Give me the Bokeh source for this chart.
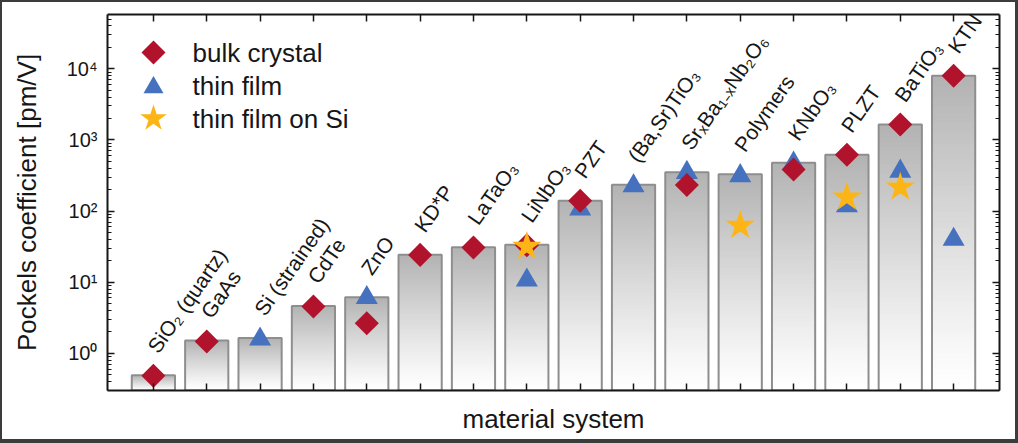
import numpy as np
from bokeh.plotting import figure
from bokeh.models import (Range1d, FixedTicker, LogAxis, LinearAxis, LinearScale,
                          CustomLabelingPolicy)
from bokeh.core.properties import value
from bokeh.embed import file_html
from bokeh.resources import INLINE

nan = np.nan

materials = ["SiO₂ (quartz)", "GaAs", "Si (strained)", "CdTe", "ZnO", "KD*P", "LaTaO₃",
             "LiNbO₃", "PZT", "(Ba,Sr)TiO₃", "SrₓBa₁₋ₓNb₂O₆", "Polymers", "KNbO₃",
             "PLZT", "BaTiO₃", "KTN"]
bar_values = [0.49, 1.51, 1.64, 4.64, 6.13, 24.4, 31.0, 33.5, 140, 234, 351, 330, 476, 617, 1650, 7980]
bulk_crystal = [0.485, 1.47, nan, 4.54, 2.64, 24.2, 30.7, 33.0, 140, nan, 233, nan, 384, 617, 1648, 8000]
thin_film = [nan, nan, 1.58, nan, 6.07, nan, nan, 10.7, 106, 226, 348, 313, 470, 118, 362, 40]
thin_film_on_si = [nan, nan, nan, nan, nan, nan, nan, 31.7, nan, nan, nan, 62.5, nan, 156, 216, nan]
series_names = ["bulk crystal", "thin film", "thin film on Si"]
y_ticks = [1, 10, 100, 1000, 10000]
y_tick_labels = ["10⁰", "10¹", "10²", "10³", "10⁴"]

FONT = "Liberation Sans"
INK = "#161616"
RED, BLUE, GOLD = "#B0132B", "#4571BE", "#FDB515"
Y0, Y1 = 0.30, 5.8e4
# picture border (top, right, bottom, left), drawn inside the figure box
BT, BR, BB, BL = 2, 3, 4, 2
W, H = 1018, 443
ML, MR, MT, MB = 105, 21, 12, 55
FW, FH = W - ML - MR, H - MT - MB

x = np.arange(len(materials))
p = figure(width=W, height=H, y_axis_type="log",
           x_range=Range1d(-0.86, len(materials) - 1 + 0.86), y_range=Range1d(Y0, Y1),
           output_backend="svg", toolbar_location=None,
           min_border_left=ML, min_border_right=MR, min_border_top=MT, min_border_bottom=MB)
p.styles = {"box-sizing": "border-box", "border-style": "solid", "border-color": "#3c3c3c",
            "border-width": f"{BT}px {BR}px {BB}px {BL}px"}
p.grid.visible = False
p.outline_line_color = None
p.background_fill_color = "white"
p.border_fill_color = "white"
# pixel space inside the frame, used only to place the legend block
p.extra_x_ranges = {"px": Range1d(0, FW)}
p.extra_y_ranges = {"px": Range1d(0, FH)}
p.extra_x_scales = {"px": LinearScale()}
p.extra_y_scales = {"px": LinearScale()}

minor = [k * 10.0 ** e for e in range(-1, 5) for k in range(2, 10)]
yticker = FixedTicker(ticks=y_ticks, minor_ticks=minor)
xticker = FixedTicker(ticks=list(x))

no_labels = CustomLabelingPolicy(code="""
try {
  const all = [...indices.ones()];
  for (const i of all) indices.unset(i);
} catch (e) {}
return indices;
""")

def style_axis(ax):
    ax.axis_line_width = 2
    ax.axis_line_color = INK
    ax.major_tick_in = 7
    ax.major_tick_out = 0
    ax.minor_tick_in = 4
    ax.minor_tick_out = 0
    ax.major_tick_line_width = 1.5
    ax.minor_tick_line_width = 1.2
    ax.major_tick_line_color = INK
    ax.minor_tick_line_color = INK

def hide_labels(ax):
    ax.major_label_text_font_size = "1px"
    ax.major_label_standoff = 0
    ax.major_label_policy = no_labels

# left axis
ly = p.yaxis[0]
ly.ticker = yticker
style_axis(ly)
ly.major_label_overrides = {t: s for t, s in zip(y_ticks, y_tick_labels)}
ly.major_label_text_font = FONT
ly.major_label_text_font_size = "20px"
ly.major_label_text_color = INK
ly.major_label_standoff = 10
ly.axis_label = "Pockels coefficient [pm/V]"
ly.axis_label_text_font = FONT
ly.axis_label_text_font_size = "26px"
ly.axis_label_text_font_style = "normal"
ly.axis_label_text_color = INK
ly.axis_label_standoff = 22

# bottom axis
bx = p.xaxis[0]
bx.ticker = xticker
style_axis(bx)
hide_labels(bx)
bx.axis_label = "material system"
bx.axis_label_text_font = FONT
bx.axis_label_text_font_size = "26px"
bx.axis_label_text_font_style = "normal"
bx.axis_label_text_color = INK
bx.axis_label_standoff = 9

ry = LogAxis(ticker=yticker)
style_axis(ry)
hide_labels(ry)
p.add_layout(ry, "right")
tx = LinearAxis(ticker=xticker)
style_axis(tx)
hide_labels(tx)
p.add_layout(tx, "above")

# gradient bars (grey at the top, white at the bottom of each bar)
BW = 0.81
N = 60
t = np.linspace(0, 1, N + 1)
L, R, B, T, C = [], [], [], [], []
top_grey = np.array([178, 178, 178])
for xi, v in zip(x, bar_values):
    edges = Y0 * (v / Y0) ** t
    for j in range(N):
        f = ((j + 0.5) / N) ** 1.15
        g = np.round(255 - (255 - top_grey) * f).astype(int)
        L.append(xi - BW / 2); R.append(xi + BW / 2)
        B.append(edges[j]); T.append(v)
        C.append("#%02x%02x%02x" % tuple(g))
p.quad(left=L, right=R, bottom=B, top=T, fill_color=C, line_color=None)
p.quad(left=x - BW / 2, right=x + BW / 2, bottom=Y0, top=bar_values,
       fill_color=None, line_color="#8e8e8e", line_width=2)

p.scatter(x, np.array(thin_film), marker="triangle", size=22, fill_color=BLUE, line_color=None)
p.scatter(x, np.array(bulk_crystal), marker="square", angle=np.pi / 4, size=17,
          fill_color=RED, line_color=None)
p.scatter(x, np.array(thin_film_on_si), marker="star", size=31, fill_color=GOLD, line_color=None)

p.text(x=x, y=bar_values, text=materials, angle=np.deg2rad(55),
       text_align="left", text_baseline="alphabetic", x_offset=-1, y_offset=-25,
       text_font=value(FONT), text_font_size="21px", text_color=INK)

# legend block (positions in frame pixels, measured from the frame's top-left)
leg_x, leg_text_x = 46, 85
leg_marker_y = [38, 73, 104]
leg_text_y = [38, 71, 104.5]
p.scatter([leg_x], [FH - leg_marker_y[0]], marker="square", angle=np.pi / 4, size=17,
          fill_color=RED, line_color=None, x_range_name="px", y_range_name="px")
p.scatter([leg_x], [FH - leg_marker_y[1]], marker="triangle", size=20,
          fill_color=BLUE, line_color=None, x_range_name="px", y_range_name="px")
p.scatter([leg_x], [FH - leg_marker_y[2]], marker="star", size=28,
          fill_color=GOLD, line_color=None, x_range_name="px", y_range_name="px")
p.text(x=[leg_text_x] * 3, y=[FH - v for v in leg_text_y], text=series_names,
       text_align="left", text_baseline="alphabetic",
       text_font=value(FONT), text_font_size="26px", text_color=INK,
       x_range_name="px", y_range_name="px")

open("out.html", "w").write(file_html(p, INLINE))
